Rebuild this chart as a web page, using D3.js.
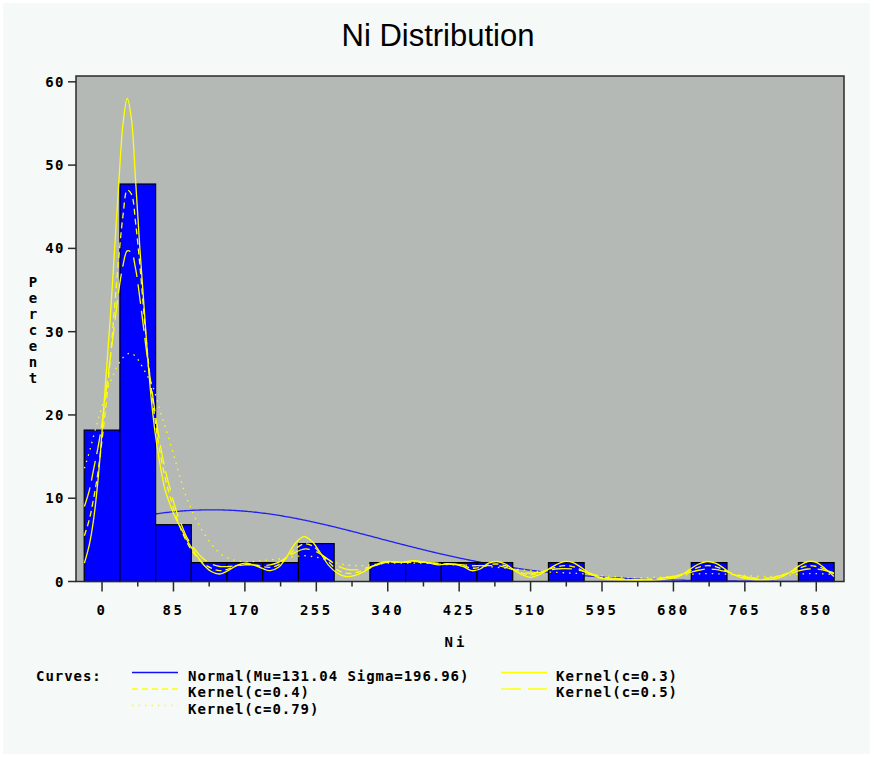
<!DOCTYPE html>
<html>
<head>
<meta charset="utf-8">
<script src="https://cdn.jsdelivr.net/npm/d3@7"></script>
<style>
  html, body { margin: 0; padding: 0; background: #ffffff; }
  svg { display: block; }
</style>
</head>
<body>
<svg id="chart" width="876" height="757"></svg>
<script>
// Histogram of Ni (percent of 44 samples per 42.5-wide bin)
const binWidth = 42.5;
const binMids = [0, 42.5, 85, 127.5, 170, 212.5, 255, 297.5, 340, 382.5, 425,
                 467.5, 510, 552.5, 595, 637.5, 680, 722.5, 765, 807.5, 850];
const binPercents = [18.18, 47.73, 6.82, 2.27, 2.27, 2.27, 4.55, 0, 2.27, 2.27, 2.27,
                     2.27, 0, 2.27, 0, 0, 0, 2.27, 0, 0, 2.27];

const xTicks = [0, 85, 170, 255, 340, 425, 510, 595, 680, 765, 850];
const yTicks = [0, 10, 20, 30, 40, 50, 60];

// Fitted normal parameters
const normalMu = 131.04;
const normalSigma = 196.96;

// Kernel density estimates (percent), sampled along Ni
const kernelX = [
  -21, -15, -10, -5, 0,
  5, 10, 15, 20, 25,
  30, 35, 40, 45, 50,
  55, 60, 65, 70, 75,
  80, 85, 90, 95, 100,
  105, 110, 115, 120, 130,
  140, 150, 160, 170, 180,
  190, 200, 210, 220, 230,
  240, 250, 260, 270, 280,
  290, 300, 310, 320, 330,
  340, 355, 370, 385, 400,
  415, 430, 440, 450, 460,
  470, 480, 490, 500, 510,
  520, 530, 540, 550, 560,
  570, 580, 590, 600, 620,
  640, 660, 680, 690, 700,
  710, 720, 730, 740, 750,
  760, 770, 790, 800, 810,
  820, 830, 840, 850, 860,
  871];

const kernel03 = [
  2.2, 4.5, 7.5, 12, 18,
  25, 32, 40, 48, 55,
  58, 55.5, 48, 40, 33,
  26, 20.5, 16.5, 13.5, 11,
  9.5, 8.2, 7.1, 6.2, 5.2,
  4.3, 3.5, 2.8, 2.1, 1.2,
  0.9, 1.3, 1.9, 2.2, 2.0,
  1.6, 1.3, 1.7, 3.0, 4.6,
  5.4, 4.8, 3.4, 1.9, 1.0,
  0.6, 0.7, 1.1, 1.7, 2.2,
  2.4, 2.3, 2.5, 2.3, 2.0,
  2.1, 1.8, 1.3, 1.5, 2.2,
  2.4, 2.1, 1.4, 0.8, 0.5,
  0.8, 1.4, 2.0, 2.4, 2.3,
  1.7, 1.0, 0.5, 0.3, 0.2,
  0.15, 0.2, 0.4, 0.8, 1.5,
  2.1, 2.4, 2.2, 1.6, 0.9,
  0.5, 0.3, 0.2, 0.3, 0.6,
  1.2, 1.9, 2.4, 2.3, 1.6,
  0.6];

const kernel04 = [
  5.5, 7.5, 10, 13, 17,
  21.5, 27, 33, 39, 44,
  47, 46.5, 43, 38, 32,
  26.5, 22, 18, 15, 12.5,
  10.5, 8.8, 7.3, 6, 4.9,
  4.0, 3.3, 2.7, 2.2, 1.6,
  1.3, 1.5, 1.9, 2.1, 2.0,
  1.8, 1.7, 2.0, 2.9, 3.9,
  4.5, 4.3, 3.4, 2.3, 1.4,
  1.0, 1.0, 1.3, 1.7, 2.1,
  2.3, 2.3, 2.4, 2.3, 2.1,
  2.1, 1.9, 1.6, 1.7, 2.0,
  2.1, 1.9, 1.4, 1.0, 0.8,
  1.0, 1.4, 1.7, 1.9, 1.8,
  1.4, 0.9, 0.6, 0.35, 0.2,
  0.2, 0.3, 0.6, 0.9, 1.3,
  1.7, 1.9, 1.8, 1.4, 0.9,
  0.6, 0.4, 0.3, 0.5, 0.8,
  1.2, 1.6, 1.9, 1.8, 1.5,
  0.9];

const kernel05 = [
  9, 11, 13.5, 16, 19,
  23, 27, 31, 35, 38,
  39.7, 39.5, 37.5, 34, 30,
  26, 22.5, 19, 16, 13.5,
  11.5, 9.6, 8, 6.7, 5.5,
  4.6, 3.9, 3.3, 2.8, 2.1,
  1.8, 1.8, 1.9, 2.0, 2.0,
  1.9, 2.0, 2.3, 2.9, 3.5,
  3.9, 3.8, 3.3, 2.6, 1.9,
  1.5, 1.4, 1.5, 1.8, 2.1,
  2.3, 2.3, 2.3, 2.3, 2.2,
  2.1, 2.0, 1.9, 1.9, 1.9,
  1.9, 1.7, 1.4, 1.1, 1.0,
  1.1, 1.3, 1.5, 1.55, 1.5,
  1.3, 1.0, 0.7, 0.5, 0.3,
  0.25, 0.35, 0.6, 0.85, 1.1,
  1.35, 1.5, 1.45, 1.25, 1.0,
  0.7, 0.5, 0.4, 0.5, 0.75,
  1.0, 1.3, 1.5, 1.5, 1.35,
  1.05];

const kernel079 = [
  13.6, 15.6, 17.5, 19.3, 21,
  22.6, 24, 25.2, 26.2, 26.9,
  27.3, 27.4, 27, 26.3, 25.4,
  24.5, 23.5, 22, 20.2, 18.6,
  17, 15.3, 13.5, 11.8, 10.2,
  9, 7.8, 6.9, 6.0, 4.5,
  3.4, 2.8, 2.5, 2.4, 2.4,
  2.5, 2.6, 2.7, 2.9, 3.0,
  3.1, 3.0, 2.8, 2.5, 2.2,
  2.0, 1.9, 1.9, 2.0, 2.1,
  2.2, 2.2, 2.2, 2.2, 2.1,
  2.0, 2.0, 1.9, 1.9, 1.8,
  1.7, 1.6, 1.5, 1.4, 1.3,
  1.2, 1.15, 1.1, 1.05, 1.0,
  0.95, 0.85, 0.75, 0.65, 0.5,
  0.45, 0.5, 0.65, 0.75, 0.85,
  0.92, 0.95, 0.93, 0.9, 0.82,
  0.75, 0.68, 0.6, 0.62, 0.7,
  0.8, 0.88, 0.95, 0.95, 0.92,
  0.85];

const legendItems = [
  { label: "Normal(Mu=131.04 Sigma=196.96)", color: "#1010ff", dash: null, col: 0, row: 0 },
  { label: "Kernel(c=0.3)",  color: "#ffff00", dash: null,    col: 1, row: 0 },
  { label: "Kernel(c=0.4)",  color: "#ffff00", dash: "6,4",   col: 0, row: 1 },
  { label: "Kernel(c=0.5)",  color: "#ffff00", dash: "20,7",  col: 1, row: 1 },
  { label: "Kernel(c=0.79)", color: "#ffff00", dash: "1.5,5", col: 0, row: 2 }
];

const kernels = [
  { values: kernel03,  dash: null },
  { values: kernel04,  dash: "6,4" },
  { values: kernel05,  dash: "20,7" },
  { values: kernel079, dash: "1.5,5" }
];

// ---------- layout ----------
const svg = d3.select("#chart");
const plot = { left: 76, right: 844, top: 76, bottom: 581.5 };
const monoFont = "'DejaVu Sans Mono', 'Liberation Mono', monospace";

svg.append("rect")
  .attr("x", 3).attr("y", 3).attr("width", 867).attr("height", 751)
  .attr("fill", "#f5f9f7");

const x = d3.scaleLinear().domain([-31, 883]).range([plot.left, plot.right]);
const y = d3.scaleLinear().domain([0, 60.7]).range([plot.bottom, plot.top]);

// title
svg.append("text")
  .attr("x", 438).attr("y", 46)
  .attr("text-anchor", "middle")
  .attr("font-family", "'Liberation Sans', Arial, sans-serif")
  .attr("font-size", 31)
  .attr("fill", "#000")
  .text("Ni Distribution");

// plot background
svg.append("rect")
  .attr("x", plot.left).attr("y", plot.top)
  .attr("width", plot.right - plot.left).attr("height", plot.bottom - plot.top)
  .attr("fill", "#b5b9b5");

// normal curve, drawn beneath the histogram bars
const normalPct = v => 100 * binWidth *
  Math.exp(-0.5 * ((v - normalMu) / normalSigma) ** 2) / (normalSigma * Math.sqrt(2 * Math.PI));
const normalXs = d3.range(binMids[0] - binWidth / 2, binMids[binMids.length - 1] + binWidth / 2 + 0.01, 2);

svg.append("path")
  .datum(normalXs)
  .attr("fill", "none")
  .attr("stroke", "#2020f0")
  .attr("stroke-width", 1.3)
  .attr("d", d3.line().x(v => x(v)).y(v => y(normalPct(v))));

// bars
svg.append("g")
  .selectAll("rect")
  .data(binMids.map((m, i) => ({ m, p: binPercents[i] })).filter(d => d.p > 0))
  .join("rect")
  .attr("x", d => x(d.m - binWidth / 2))
  .attr("y", d => y(d.p))
  .attr("width", d => x(d.m + binWidth / 2) - x(d.m - binWidth / 2))
  .attr("height", d => y(0) - y(d.p))
  .attr("fill", "#0000ff")
  .attr("stroke", "#000")
  .attr("stroke-width", 1.2);

// kernel curves
const kLine = d3.line().curve(d3.curveCatmullRom.alpha(0.5));
kernels.forEach(k => {
  svg.append("path")
    .datum(kernelX.map((v, i) => [x(v), y(k.values[i])]))
    .attr("fill", "none")
    .attr("stroke", "#ffff00")
    .attr("stroke-width", 1.3)
    .attr("stroke-dasharray", k.dash)
    .attr("d", kLine);
});

// frame
svg.append("rect")
  .attr("x", plot.left).attr("y", plot.top)
  .attr("width", plot.right - plot.left).attr("height", plot.bottom - plot.top)
  .attr("fill", "none")
  .attr("stroke", "#2a2a2a")
  .attr("stroke-width", 1.5);

// y axis
const yAxis = svg.append("g");
yAxis.selectAll("line").data(yTicks).join("line")
  .attr("x1", plot.left - 8).attr("x2", plot.left)
  .attr("y1", d => y(d)).attr("y2", d => y(d))
  .attr("stroke", "#2a2a2a").attr("stroke-width", 1.5);
yAxis.selectAll("text").data(yTicks).join("text")
  .attr("x", plot.left - 11).attr("y", d => y(d) + 5)
  .attr("text-anchor", "end")
  .attr("font-family", monoFont).attr("font-weight", "bold")
  .attr("font-size", 14).attr("letter-spacing", 1.5)
  .attr("fill", "#000")
  .text(d => d);

// y label, letters stacked vertically
const yLabel = "Percent".split("");
svg.append("g").selectAll("text").data(yLabel).join("text")
  .attr("x", 33).attr("y", (d, i) => 287 + i * 16)
  .attr("text-anchor", "middle")
  .attr("font-family", monoFont).attr("font-weight", "bold")
  .attr("font-size", 14)
  .attr("fill", "#000")
  .text(d => d);

// x axis
const xAxis = svg.append("g");
const minorTicks = xTicks.slice(0, -1).map(t => t + 42.5);
xAxis.selectAll("line.major").data(xTicks).join("line")
  .attr("class", "major")
  .attr("x1", d => x(d)).attr("x2", d => x(d))
  .attr("y1", plot.bottom).attr("y2", plot.bottom + 10)
  .attr("stroke", "#2a2a2a").attr("stroke-width", 1.5);
xAxis.selectAll("line.minor").data(minorTicks).join("line")
  .attr("class", "minor")
  .attr("x1", d => x(d)).attr("x2", d => x(d))
  .attr("y1", plot.bottom).attr("y2", plot.bottom + 5)
  .attr("stroke", "#2a2a2a").attr("stroke-width", 1.5);
xAxis.selectAll("text").data(xTicks).join("text")
  .attr("x", d => x(d)).attr("y", 615)
  .attr("text-anchor", "middle")
  .attr("font-family", monoFont).attr("font-weight", "bold")
  .attr("font-size", 14).attr("letter-spacing", 2.5)
  .attr("fill", "#000")
  .text(d => d);

svg.append("text")
  .attr("x", 456).attr("y", 647)
  .attr("text-anchor", "middle")
  .attr("font-family", monoFont).attr("font-weight", "bold")
  .attr("font-size", 14).attr("letter-spacing", 3)
  .attr("fill", "#000")
  .text("Ni");

// legend
const legendFont = { family: monoFont, size: 14, spacing: 0.95 };
svg.append("text")
  .attr("x", 36).attr("y", 681)
  .attr("font-family", legendFont.family).attr("font-weight", "bold")
  .attr("font-size", legendFont.size).attr("letter-spacing", legendFont.spacing)
  .attr("fill", "#000")
  .text("Curves:");

const colX = [{ line: 132, text: 188 }, { line: 501, text: 556 }];
const legend = svg.append("g");
legendItems.forEach(it => {
  const cy = 672.5 + it.row * 16.5;
  legend.append("line")
    .attr("x1", colX[it.col].line).attr("x2", colX[it.col].line + 46)
    .attr("y1", cy).attr("y2", cy)
    .attr("stroke", it.color).attr("stroke-width", 1.3)
    .attr("stroke-dasharray", it.dash);
  legend.append("text")
    .attr("x", colX[it.col].text).attr("y", cy + 8.3)
    .attr("font-family", legendFont.family).attr("font-weight", "bold")
    .attr("font-size", legendFont.size).attr("letter-spacing", legendFont.spacing)
    .attr("fill", "#000")
    .text(it.label);
});
</script>
</body>
</html>
